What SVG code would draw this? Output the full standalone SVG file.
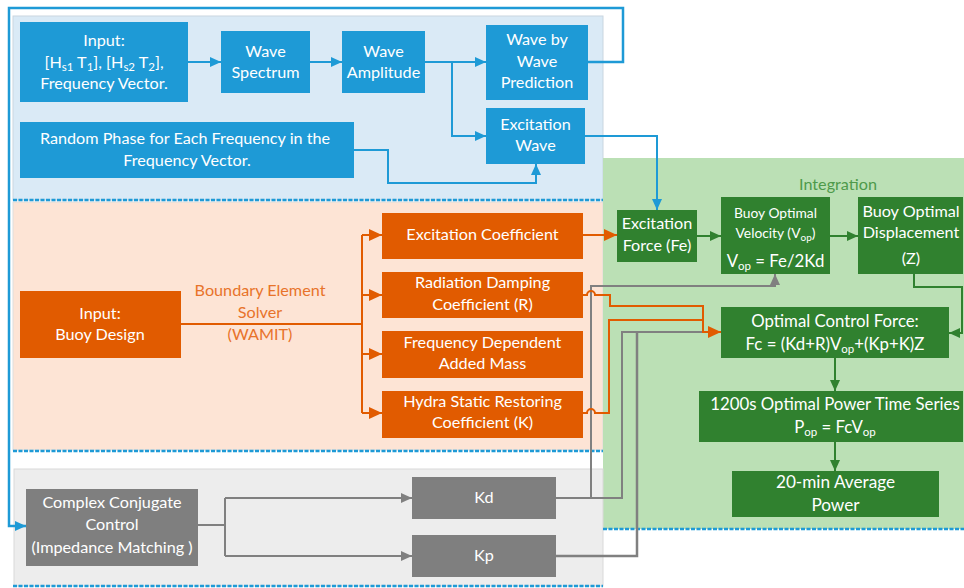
<svg xmlns="http://www.w3.org/2000/svg" width="964" height="588" viewBox="0 0 964 588">
<defs>
<style>
.t{font-family:Lato,"Open Sans","Liberation Sans",sans-serif;font-size:16.2px;fill:#fff;text-anchor:middle}
.s{font-size:11.5px}
.L{font-size:16.8px}
.bb{fill:#1E9AD6}
.ob{fill:#E15B00}
.gb{fill:#30812F}
.kb{fill:#7F7F7F}
.cb{fill:none;stroke:#1E9AD6;stroke-width:2}
.co{fill:none;stroke:#E15B00;stroke-width:2}
.cg{fill:none;stroke:#30812F;stroke-width:2}
.ck{fill:none;stroke:#808080;stroke-width:2}
.sep{stroke:#1E9AD6;stroke-width:2.5;stroke-dasharray:4 1.5}
</style>
<marker id="ab" markerUnits="userSpaceOnUse" markerWidth="12" markerHeight="12" refX="11" refY="6" orient="auto"><path d="M0,1 L11,6 L0,11 Z" fill="#1E9AD6"/></marker>
<marker id="ao" markerUnits="userSpaceOnUse" markerWidth="14" markerHeight="14" refX="13" refY="7" orient="auto"><path d="M0,1 L13,7 L0,13 Z" fill="#E15B00"/></marker>
<marker id="ag" markerUnits="userSpaceOnUse" markerWidth="12" markerHeight="12" refX="11" refY="6" orient="auto"><path d="M0,1 L11,6 L0,11 Z" fill="#30812F"/></marker>
<marker id="ak" markerUnits="userSpaceOnUse" markerWidth="12" markerHeight="12" refX="11" refY="6" orient="auto"><path d="M0,1 L11,6 L0,11 Z" fill="#808080"/></marker>
</defs>
<rect width="964" height="588" fill="#fff"/>
<!-- panels -->
<g id="panels">
<rect x="13" y="16" width="590" height="184" fill="#DAEAF6" stroke="#C9D6E0" stroke-width="1"/>
<rect x="13" y="202" width="590" height="248" fill="#FDE4D5" stroke="#DDDDDD" stroke-width="1"/>
<rect x="603" y="158" width="361" height="371" fill="#BBE0B5"/>
<rect x="14" y="469" width="589" height="117" fill="#EDEDED" stroke="#D9D9D9" stroke-width="1"/>
<line class="sep" x1="13" y1="200" x2="603" y2="200"/>
<line class="sep" x1="13" y1="451" x2="603" y2="451"/>
<line class="sep" x1="603" y1="529" x2="964" y2="529"/>
<line class="sep" x1="13" y1="586" x2="603" y2="586"/>
<text class="t" x="838" y="190" style="fill:#4E9A4B">Integration</text>
<text class="t" x="260" y="296" style="fill:#E8732A">Boundary Element</text>
<text class="t" x="260" y="318" style="fill:#E8732A">Solver</text>
<text class="t" x="260" y="340" style="fill:#E8732A">(WAMIT)</text>
</g>
<!-- connectors -->
<g id="connectors">
<path class="cb" d="M188,62 H221" marker-end="url(#ab)"/>
<path class="cb" d="M310,62 H342" marker-end="url(#ab)"/>
<path class="cb" d="M425,62 H486" marker-end="url(#ab)"/>
<path class="cb" d="M452,62 V136 H486" marker-end="url(#ab)"/>
<path class="cb" d="M354,150 H388 V183 H536 V164" marker-end="url(#ab)"/>
<path class="cb" d="M585,136 H657 V210" marker-end="url(#ab)"/>
<path class="cb" style="stroke-width:2.5" d="M588,62 H623 V8 H9 V526 H26" marker-end="url(#ab)"/>
<path class="co" d="M181,324 H362"/>
<path class="co" d="M362,235 V413"/>
<path class="co" d="M362,235 H382" marker-end="url(#ao)"/>
<path class="co" d="M362,295 H382" marker-end="url(#ao)"/>
<path class="co" d="M362,354 H382" marker-end="url(#ao)"/>
<path class="co" d="M362,413 H382" marker-end="url(#ao)"/>
<path class="co" d="M583,235 H617" marker-end="url(#ao)"/>
<path class="cg" d="M697,236 H721" marker-end="url(#ag)"/>
<path class="cg" d="M830,236 H858" marker-end="url(#ag)"/>
<path class="cg" d="M914,274 V287 H962 V333 H949" marker-end="url(#ag)"/>
<path class="cg" d="M835,358 V391" marker-end="url(#ag)"/>
<path class="cg" d="M835,442 V471" marker-end="url(#ag)"/>
<path class="ck" d="M198,525 H225"/>
<path class="ck" d="M225,498 V556"/>
<path class="ck" d="M225,498 H412" marker-end="url(#ak)"/>
<path class="ck" d="M225,556 H412" marker-end="url(#ak)"/>
<path class="ck" d="M556,498 H622 V332 H704"/>
<path class="ck" d="M591,498 V286 H775 V274" marker-end="url(#ak)"/>
<path class="ck" style="stroke-width:2.5" d="M556,556 H637 V332"/>
<path class="co" d="M583,295 H587 a4,4 0 0 1 8,0 H610 V306 H703 V332 H721" marker-end="url(#ao)"/>
<path class="co" d="M583,413 H587 a4,4 0 0 1 8,0 H609 V320 H703"/>
</g>
<!-- blue nodes -->
<g id="n-input">
<rect class="bb" x="20" y="22" width="168" height="80"/>
<text class="t" x="104" y="46">Input:</text>
<text class="t" x="104" y="68">[H<tspan class="s" dy="3">s1</tspan><tspan dy="-3"> T</tspan><tspan class="s" dy="3">1</tspan><tspan dy="-3">], [H</tspan><tspan class="s" dy="3">s2</tspan><tspan dy="-3"> T</tspan><tspan class="s" dy="3">2</tspan><tspan dy="-3">],</tspan></text>
<text class="t" x="104" y="89">Frequency Vector.</text>
</g>
<g id="n-spectrum">
<rect class="bb" x="221" y="31" width="89" height="62"/>
<text class="t" x="265.5" y="57">Wave</text>
<text class="t" x="265.5" y="78">Spectrum</text>
</g>
<g id="n-amplitude">
<rect class="bb" x="342" y="31" width="83" height="62"/>
<text class="t" x="383.5" y="57">Wave</text>
<text class="t" x="383.5" y="78">Amplitude</text>
</g>
<g id="n-wbw">
<rect class="bb" x="486" y="25" width="102" height="75"/>
<text class="t" x="537" y="45">Wave by</text>
<text class="t" x="537" y="67">Wave</text>
<text class="t" x="537" y="88">Prediction</text>
</g>
<g id="n-excwave">
<rect class="bb" x="486" y="108" width="99" height="56"/>
<text class="t" x="535.5" y="130">Excitation</text>
<text class="t" x="535.5" y="151">Wave</text>
</g>
<g id="n-phase">
<rect class="bb" x="20" y="122" width="334" height="56"/>
<text class="t" x="185" y="144">Random Phase for Each Frequency in the</text>
<text class="t" x="187" y="166">Frequency Vector.</text>
</g>
<!-- orange nodes -->
<g id="n-buoy">
<rect class="ob" x="20" y="291" width="161" height="67"/>
<text class="t" x="100" y="319">Input:</text>
<text class="t" x="100" y="340">Buoy Design</text>
</g>
<g id="n-exccoef">
<rect class="ob" x="382" y="213" width="201" height="46"/>
<text class="t" x="482.5" y="240">Excitation Coefficient</text>
</g>
<g id="n-raddamp">
<rect class="ob" x="382" y="272" width="201" height="46"/>
<text class="t" x="482.5" y="288">Radiation Damping</text>
<text class="t" x="482.5" y="310">Coefficient (R)</text>
</g>
<g id="n-addmass">
<rect class="ob" x="382" y="331" width="201" height="47"/>
<text class="t" x="482.5" y="348">Frequency Dependent</text>
<text class="t" x="482.5" y="369">Added Mass</text>
</g>
<g id="n-hydro">
<rect class="ob" x="382" y="391" width="201" height="47"/>
<text class="t" x="482.5" y="407">Hydra Static Restoring</text>
<text class="t" x="482.5" y="428">Coefficient (K)</text>
</g>
<!-- green nodes -->
<g id="n-excforce">
<rect class="gb" x="617" y="210" width="80" height="52"/>
<text class="t" x="657" y="229">Excitation</text>
<text class="t" x="657" y="251">Force (Fe)</text>
</g>
<g id="n-velocity">
<rect class="gb" x="721" y="197" width="109" height="77"/>
<text class="t" x="775.5" y="218" style="font-size:13.8px">Buoy Optimal</text>
<text class="t" x="775.5" y="238" style="font-size:13.8px">Velocity (V<tspan class="s" style="font-size:10px" dy="3">op</tspan><tspan dy="-3">)</tspan></text>
<text class="t L" x="775.5" y="267">V<tspan class="s" dy="3">op</tspan><tspan dy="-3"> = Fe/2Kd</tspan></text>
</g>
<g id="n-displacement">
<rect class="gb" x="858" y="197" width="105" height="77"/>
<text class="t" x="911" y="217">Buoy Optimal</text>
<text class="t" x="911" y="238">Displacement</text>
<text class="t" x="911" y="264">(Z)</text>
</g>
<g id="n-ocf">
<rect class="gb" x="721" y="307" width="228" height="51"/>
<text class="t L" x="835" y="327">Optimal Control Force:</text>
<text class="t L" x="835" y="350">Fc = (Kd+R)V<tspan class="s" dy="3">op</tspan><tspan dy="-3">+(Kp+K)Z</tspan></text>
</g>
<g id="n-power">
<rect class="gb" x="699" y="391" width="264" height="51"/>
<text class="t L" x="835" y="410">1200s Optimal Power Time Series</text>
<text class="t L" x="835" y="433">P<tspan class="s" dy="3">op</tspan><tspan dy="-3"> = FcV</tspan><tspan class="s" dy="3">op</tspan></text>
</g>
<g id="n-avg">
<rect class="gb" x="732" y="471" width="207" height="46"/>
<text class="t" x="835.5" y="488" style="font-size:17.2px">20-min Average</text>
<text class="t" x="835.5" y="511" style="font-size:17.2px">Power</text>
</g>
<!-- gray nodes -->
<g id="n-ccc">
<rect class="kb" x="26" y="489" width="172" height="77"/>
<text class="t" x="112" y="508">Complex Conjugate</text>
<text class="t" x="112" y="530">Control</text>
<text class="t" x="112" y="553">(Impedance Matching )</text>
</g>
<g id="n-kd">
<rect class="kb" x="412" y="477" width="144" height="42"/>
<text class="t" x="484" y="503">Kd</text>
</g>
<g id="n-kp">
<rect class="kb" x="412" y="535" width="144" height="42"/>
<text class="t" x="484" y="561">Kp</text>
</g>
</svg>
